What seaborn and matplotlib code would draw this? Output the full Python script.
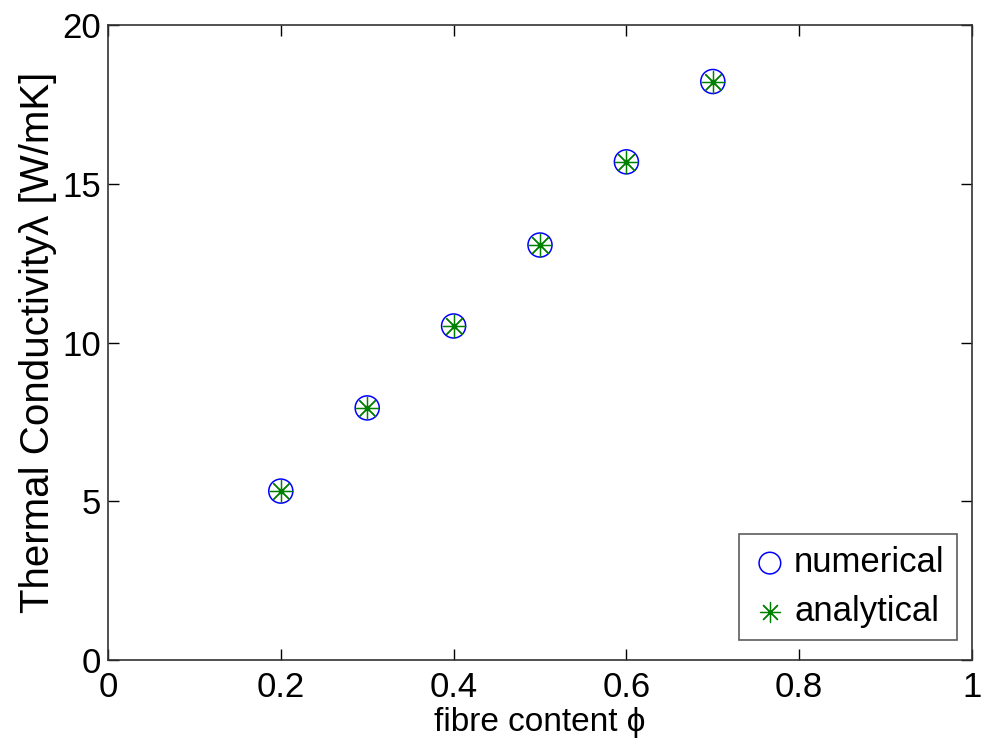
import matplotlib.pyplot as plt
import seaborn as sns
import pandas as pd

# Werte
fibre_content = [0.2, 0.3, 0.4, 0.5, 0.6, 0.7]
numerical = [5.32, 7.94, 10.52, 13.07, 15.69, 18.22]
analytical = [5.32, 7.94, 10.52, 13.07, 15.69, 18.22]

df = pd.DataFrame({"phi": fibre_content, "numerical": numerical, "analytical": analytical})

sns.set_style("ticks")
plt.rcParams["font.family"] = ["Liberation Sans", "DejaVu Sans"]
plt.rcParams["text.color"] = "black"
plt.rcParams["axes.labelcolor"] = "black"
plt.rcParams["xtick.color"] = "black"
plt.rcParams["ytick.color"] = "black"

fig = plt.figure(figsize=(9.85, 7.5), dpi=100)
ax = fig.add_axes([108 / 985, 1 - 660 / 750, 864 / 985, 635 / 750])

sns.scatterplot(data=df, x="phi", y="numerical", ax=ax, marker="o", s=300,
                facecolor="none", edgecolor="blue", linewidth=1.1, label="numerical")
sns.scatterplot(data=df, x="phi", y="analytical", ax=ax, marker=(8, 2, 0), s=260,
                color="green", edgecolor="green", linewidth=0.9, label="analytical")
ax.scatter(fibre_content, analytical, s=10, color="green", zorder=5)

ax.set_xlim(0, 1)
ax.set_ylim(0, 20)
ax.set_xticks([0, 0.2, 0.4, 0.6, 0.8, 1])
ax.set_xticklabels(["0", "0.2", "0.4", "0.6", "0.8", "1"])
ax.set_yticks([0, 5, 10, 15, 20])
ax.tick_params(direction="in", length=8, width=1, labelsize=25, top=True, right=True)
ax.tick_params(axis="x", pad=8)
ax.tick_params(axis="y", pad=5)
for sp in ax.spines.values():
    sp.set_linewidth(1.2)
    sp.set_color("#333333")

ax.set_xlabel("fibre content \u03d5", fontsize=24, labelpad=2)
ax.set_ylabel("Thermal Conductivity\u03bb [W/mK]", fontsize=29, labelpad=4)

leg = ax.legend(loc="lower right", fontsize=25, frameon=True, fancybox=False,
                edgecolor="#333333", handletextpad=0.15, borderpad=0.35,
                labelspacing=0.45, handlelength=1.1, borderaxespad=0,
                bbox_to_anchor=(0.9826, 0.0315), markerscale=0.9)
leg.get_frame().set_linewidth(1.2)

fig.savefig("out.png", dpi=100)
